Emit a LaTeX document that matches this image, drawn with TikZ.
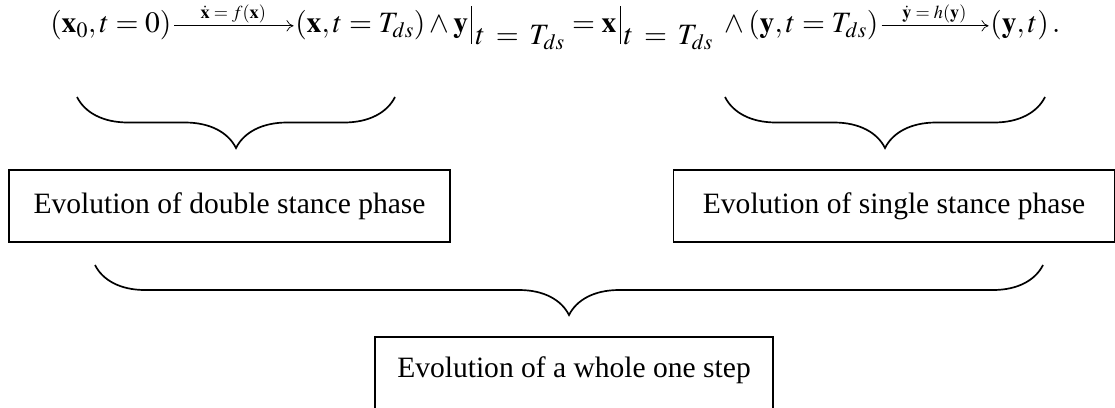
\documentclass[tikz,border=0pt]{standalone}
\usepackage{amsmath}
\usepackage{mathptmx}
\usepackage{fontspec}
\setmainfont{Liberation Serif}
\usetikzlibrary{decorations.pathreplacing,positioning,arrows.meta}
\newcommand{\evalbar}{\mathclose{\rule[-0.36em]{0.7pt}{1.26em}}}

\begin{document}
\begin{tikzpicture}[x=0.025cm,y=-0.025cm,
  every node/.style={font=\fontsize{21}{25}\selectfont},
  term/.style={anchor=base west,inner sep=0pt},
  evol/.style={-{To[length=5pt,width=8pt]},line width=0.5pt,shorten <=2pt,shorten >=1pt},
  rule/.style={font=\fontsize{13}{15}\selectfont,above=2pt,inner sep=0pt},
  phase/.style={draw,line width=1.2pt,inner sep=0pt,minimum height=1.8cm,align=center},
  curly/.style={decorate,decoration={brace,mirror,amplitude=#1},line width=1.2pt}]
\useasboundingbox (0,0) rectangle (1115,407);

% the equation on top
\node[term] (init) at (50,33) {$(\mathbf{x}_0,t=0)$};
\node[term] (switch) at (295,33)
  {$(\mathbf{x},t=T_{ds})\wedge\mathbf{y}\,\evalbar_{\textstyle\,t\:=\:T_{ds}}=\mathbf{x}\,\evalbar_{\textstyle\,t\:=\:T_{ds}}\;\wedge(\mathbf{y},t=T_{ds})$};
\node[term] (final) at (990,33) {$(\mathbf{y},t)\,.$};
\draw[evol] ([yshift=0.18cm]init.base east) -- ([yshift=0.18cm]switch.base west)
  node[midway,rule] {$\dot{\mathbf{x}}=f(\mathbf{x})$};
\draw[evol] ([yshift=0.18cm]switch.base east) -- ([yshift=0.18cm]final.base west)
  node[midway,rule] {$\dot{\mathbf{y}}=h(\mathbf{y})$};

% the two phases
\node[phase,minimum width=11.025cm] (double) at (229.5,206) {Evolution of double stance phase};
\node[phase,minimum width=11.025cm] (single) at (894,206) {Evolution of single stance phase};
\node[phase,minimum width=9.95cm,minimum height=0pt,text height=1cm,text depth=1cm,anchor=base] (whole) at (574,377) {Evolution of a whole one step};

% braces
\coordinate (dl) at (77,97);  \coordinate (dr) at (395,97);
\coordinate (sl) at (725,97); \coordinate (sr) at (1045,97);
\coordinate (wl) at (95,265); \coordinate (wr) at (1043,265);
\draw[curly=1.275cm] (dl) -- (dr);
\draw[curly=1.275cm] (sl) -- (sr);
\draw[curly=1.25cm] (wl) -- (wr);
\end{tikzpicture}
\end{document}
